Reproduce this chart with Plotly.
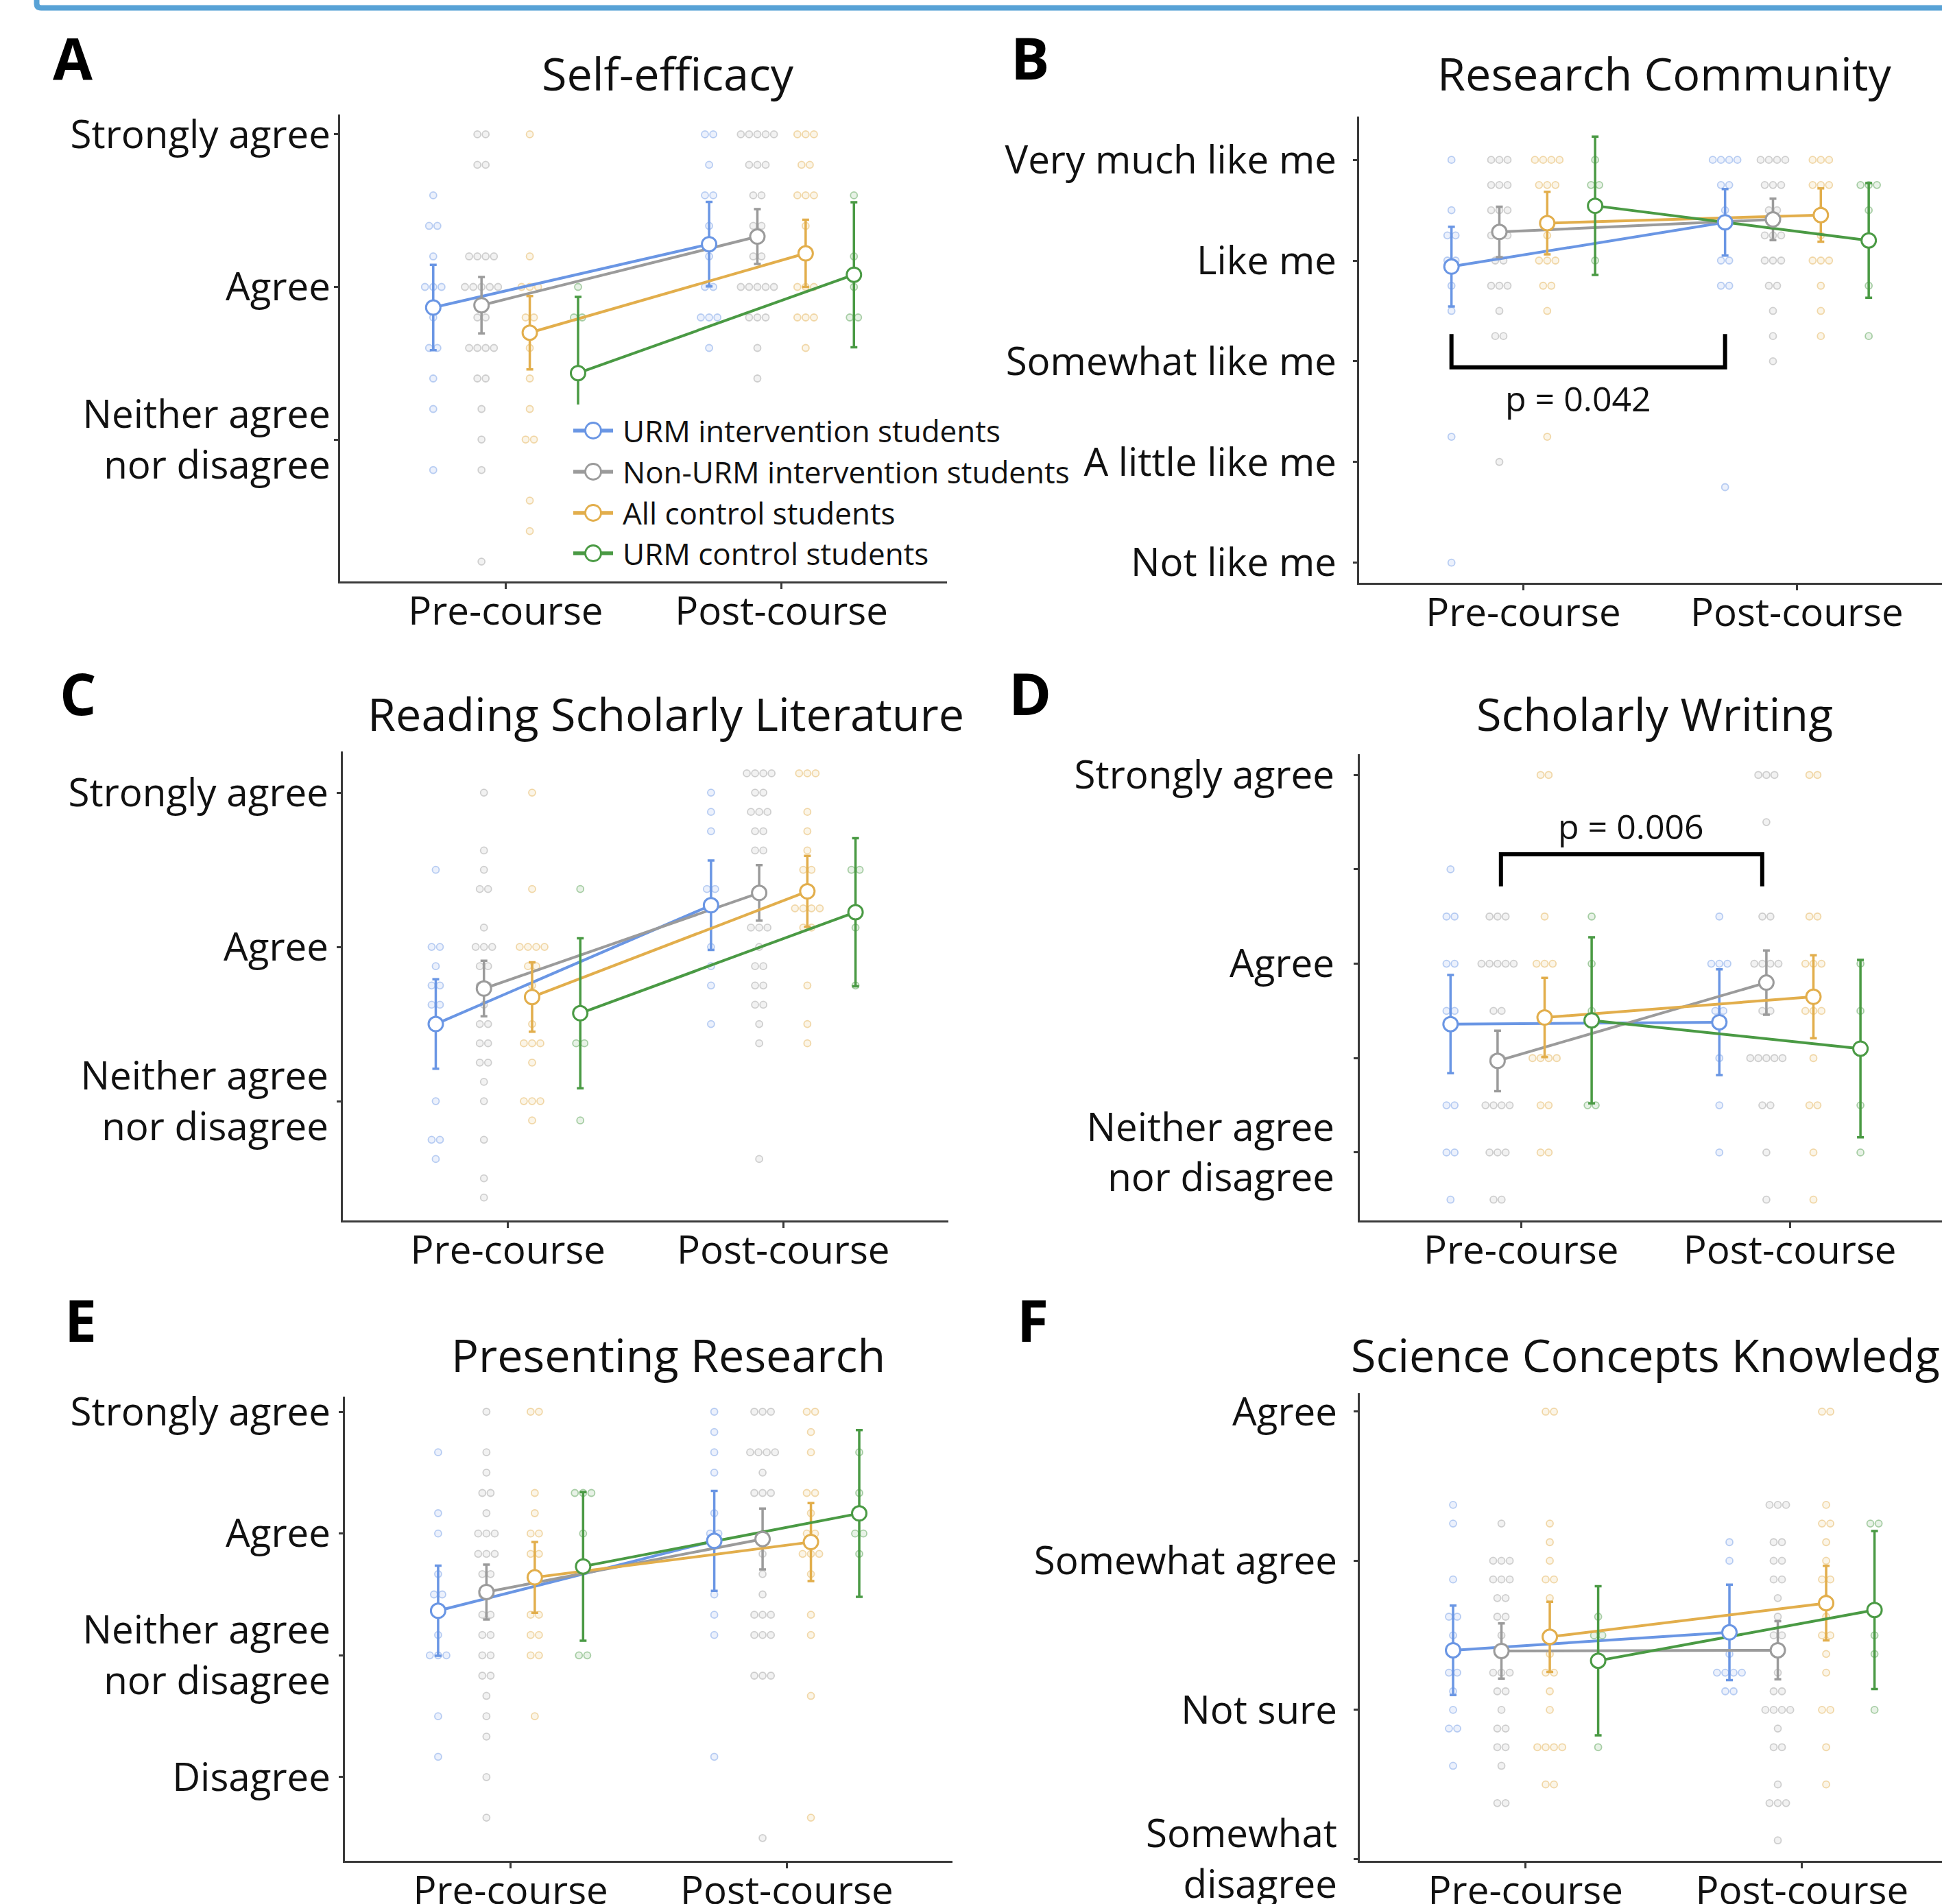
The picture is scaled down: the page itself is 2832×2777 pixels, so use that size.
import plotly.graph_objects as go

W, H = 2832, 2777

GROUPS = ["URM intervention students", "Non-URM intervention students",
          "All control students", "URM control students"]
COLORS = ["#6A96E4", "#9B9B9B", "#E2AE4C", "#4A9A44"]
RGB = [(106, 150, 228), (155, 155, 155), (226, 174, 76), (74, 154, 68)]
TIMES = ["Pre-course", "Post-course"]
LETTERS = ["A", "B", "C", "D", "E", "F"]
TITLES = ["Self-efficacy", "Research Community", "Reading Scholarly Literature",
          "Scholarly Writing", "Presenting Research", "Science Concepts Knowledge"]

# ---------------- Panel A: Self-efficacy ----------------
A_TICKVALS = [3, 4, 5]
A_TICKTEXT = ["Neither agree<br>nor disagree", "Agree", "Strongly agree"]
A_PRE_MEAN = [3.865, 3.88, 3.70, 3.435]
A_POST_MEAN = [4.28, 4.33, 4.22, 4.08]
A_PRE_ERR = [0.28, 0.185, 0.24, 0.50]
A_POST_ERR = [0.277, 0.18, 0.22, 0.475]
A_PRE_DOTS = [
    [4.6, 4.4, 4.4, 4.2, 4.0, 4.0, 4.0, 3.8, 3.6, 3.6, 3.4, 3.2, 2.8],
    [5.0, 5.0, 4.8, 4.8, 4.2, 4.2, 4.2, 4.2, 4.0, 4.0, 4.0, 4.0, 4.0, 3.8, 3.8,
     3.6, 3.6, 3.6, 3.6, 3.4, 3.4, 3.2, 3.0, 2.8, 2.2],
    [5.0, 4.2, 4.0, 4.0, 4.0, 3.8, 3.8, 3.6, 3.4, 3.2, 3.0, 3.0, 2.6, 2.4],
    [4.0, 3.8, 3.8, 2.8, 2.8],
]
A_POST_DOTS = [
    [5.0, 5.0, 4.8, 4.6, 4.6, 4.4, 4.2, 4.0, 4.0, 3.8, 3.8, 3.8, 3.6],
    [5.0, 5.0, 5.0, 5.0, 5.0, 4.8, 4.8, 4.8, 4.6, 4.6, 4.4, 4.4, 4.2, 4.2,
     4.0, 4.0, 4.0, 4.0, 4.0, 3.8, 3.8, 3.8, 3.6, 3.4, 3.2],
    [5.0, 5.0, 5.0, 4.8, 4.8, 4.6, 4.6, 4.6, 4.4, 4.2, 4.0, 4.0, 4.0, 3.8, 3.8, 3.8, 3.6],
    [4.6, 4.2, 4.0, 3.8, 3.8],
]

# ---------------- Panel B: Research Community ----------------
B_TICKVALS = [1, 2, 3, 4, 5]
B_TICKTEXT = ["Not like me", "A little like me", "Somewhat like me", "Like me", "Very much like me"]
B_PRE_MEAN = [3.94, 4.284, 4.372, 4.544]
B_POST_MEAN = [4.38, 4.408, 4.452, 4.20]
B_PRE_ERR = [0.396, 0.25, 0.31, 0.686]
B_POST_ERR = [0.33, 0.206, 0.264, 0.57]
B_PRE_DOTS = [
    [5.0, 4.5, 4.25, 4.25, 4.0, 4.0, 3.75, 3.5, 2.25, 1.0],
    [5.0, 5.0, 5.0, 4.75, 4.75, 4.75, 4.5, 4.5, 4.5, 4.25, 4.25, 4.25, 4.0, 4.0,
     3.75, 3.75, 3.75, 3.5, 3.25, 3.25, 2.0],
    [5.0, 5.0, 5.0, 5.0, 4.75, 4.75, 4.75, 4.25, 4.0, 4.0, 4.0, 3.75, 3.75, 3.5, 2.25],
    [5.0, 4.75, 4.75, 4.0],
]
B_POST_DOTS = [
    [5.0, 5.0, 5.0, 5.0, 4.75, 4.75, 4.5, 4.0, 4.0, 3.75, 3.75, 1.75],
    [5.0, 5.0, 5.0, 5.0, 4.75, 4.75, 4.75, 4.5, 4.5, 4.25, 4.25, 4.25, 4.0, 4.0, 4.0,
     3.75, 3.75, 3.5, 3.25, 3.0],
    [5.0, 5.0, 5.0, 4.75, 4.75, 4.75, 4.5, 4.25, 4.0, 4.0, 4.0, 3.75, 3.5, 3.25],
    [4.75, 4.75, 4.75, 4.5, 3.75, 3.25],
]
B_P_TEXT = "p = 0.042"

# ---------------- Panel C: Reading Scholarly Literature ----------------
C_TICKVALS = [3, 4, 5]
C_TICKTEXT = ["Neither agree<br>nor disagree", "Agree", "Strongly agree"]
C_PRE_MEAN = [3.50, 3.73, 3.675, 3.57]
C_POST_MEAN = [4.27, 4.35, 4.36, 4.225]
C_PRE_ERR = [0.29, 0.18, 0.225, 0.486]
C_POST_ERR = [0.29, 0.18, 0.23, 0.48]
C_PRE_DOTS = [
    [4.5, 4.0, 4.0, 3.875, 3.75, 3.75, 3.625, 3.625, 3.0, 2.75, 2.75, 2.625],
    [5.0, 4.625, 4.5, 4.375, 4.375, 4.125, 4.0, 4.0, 4.0, 3.875, 3.875, 3.75, 3.75,
     3.625, 3.5, 3.5, 3.375, 3.375, 3.25, 3.25, 3.125, 3.0, 2.75, 2.5, 2.375],
    [5.0, 4.375, 4.0, 4.0, 4.0, 4.0, 3.875, 3.875, 3.75, 3.5, 3.375, 3.375, 3.375,
     3.25, 3.0, 3.0, 3.0, 2.875],
    [4.375, 3.375, 3.375, 2.875],
]
C_POST_DOTS = [
    [5.0, 4.875, 4.75, 4.375, 4.375, 4.0, 3.875, 3.75, 3.5],
    [5.125, 5.125, 5.125, 5.125, 5.0, 5.0, 4.875, 4.875, 4.875, 4.75, 4.75, 4.625, 4.625,
     4.125, 4.125, 4.125, 4.0, 3.875, 3.875, 3.75, 3.75, 3.625, 3.625, 3.5, 3.375, 2.625],
    [5.125, 5.125, 5.125, 4.875, 4.75, 4.625, 4.5, 4.5, 4.25, 4.25, 4.25, 4.25,
     4.125, 4.125, 3.75, 3.5, 3.375],
    [4.5, 4.5, 4.25, 4.125, 3.75],
]

# ---------------- Panel D: Scholarly Writing ----------------
D_TICKVALS = [3, 3.5, 4, 4.5, 5]
D_TICKTEXT = ["Neither agree<br>nor disagree", "", "Agree", "", "Strongly agree"]
D_PRE_MEAN = [3.68, 3.485, 3.715, 3.70]
D_POST_MEAN = [3.69, 3.90, 3.825, 3.55]
D_PRE_ERR = [0.26, 0.16, 0.21, 0.44]
D_POST_ERR = [0.28, 0.17, 0.22, 0.47]
D_PRE_DOTS = [
    [4.5, 4.25, 4.25, 4.0, 4.0, 3.75, 3.75, 3.25, 3.25, 3.0, 3.0, 2.75],
    [4.25, 4.25, 4.25, 4.0, 4.0, 4.0, 4.0, 4.0, 3.75, 3.75, 3.5, 3.5,
     3.25, 3.25, 3.25, 3.25, 3.0, 3.0, 3.0, 2.75, 2.75],
    [5.0, 5.0, 4.25, 4.0, 4.0, 4.0, 3.5, 3.5, 3.5, 3.5, 3.25, 3.25, 3.0, 3.0],
    [4.25, 4.0, 3.75, 3.25, 3.25],
]
D_POST_DOTS = [
    [4.25, 4.0, 4.0, 4.0, 3.75, 3.75, 3.5, 3.25, 3.0],
    [5.0, 5.0, 5.0, 4.75, 4.25, 4.25, 4.0, 4.0, 4.0, 4.0, 3.75, 3.75,
     3.5, 3.5, 3.5, 3.5, 3.5, 3.25, 3.25, 3.0, 2.75],
    [5.0, 5.0, 4.25, 4.25, 4.0, 4.0, 4.0, 3.75, 3.75, 3.75, 3.5, 3.25, 3.25, 3.0, 2.75],
    [4.0, 3.75, 3.25, 3.0],
]
D_P_TEXT = "p = 0.006"

# ---------------- Panel E: Presenting Research ----------------
E_TICKVALS = [2, 3, 4, 5]
E_TICKTEXT = ["Disagree", "Neither agree<br>nor disagree", "Agree", "Strongly agree"]
E_PRE_MEAN = [3.366, 3.52, 3.64, 3.73]
E_POST_MEAN = [3.94, 3.955, 3.93, 4.165]
E_PRE_ERR = [0.37, 0.225, 0.29, 0.61]
E_POST_ERR = [0.41, 0.25, 0.32, 0.685]
E_PRE_DOTS = [
    [4.667, 4.167, 4.0, 3.667, 3.5, 3.5, 3.333, 3.167, 3.0, 3.0, 3.0, 2.5, 2.167],
    [5.0, 4.667, 4.5, 4.333, 4.333, 4.167, 4.0, 4.0, 4.0, 3.833, 3.833, 3.833,
     3.667, 3.667, 3.5, 3.5, 3.333, 3.333, 3.167, 3.167, 3.0, 3.0, 2.833, 2.833,
     2.667, 2.5, 2.333, 2.0, 1.667],
    [5.0, 5.0, 4.333, 4.167, 4.0, 4.0, 3.833, 3.833, 3.333, 3.333, 3.167, 3.167, 3.0, 3.0, 2.5],
    [4.333, 4.333, 4.333, 4.0, 3.0, 3.0],
]
E_POST_DOTS = [
    [5.0, 4.833, 4.667, 4.5, 4.167, 4.0, 4.0, 3.5, 3.333, 3.167, 2.167],
    [5.0, 5.0, 5.0, 4.667, 4.667, 4.667, 4.667, 4.5, 4.333, 4.333, 4.333, 4.0, 3.833,
     3.667, 3.5, 3.333, 3.333, 3.333, 3.167, 3.167, 3.167, 2.833, 2.833, 2.833, 1.5],
    [5.0, 5.0, 4.833, 4.667, 4.333, 4.333, 4.167, 4.0, 4.0, 3.833, 3.833, 3.833,
     3.667, 3.333, 3.167, 2.667, 1.667],
    [4.667, 4.333, 4.0, 4.0, 3.833],
]

# ---------------- Panel F: Science Concepts Knowledge ----------------
F_TICKVALS = [2, 3, 4, 5]
F_TICKTEXT = ["Somewhat<br>disagree", "Not sure", "Somewhat agree", "Agree"]
F_PRE_MEAN = [3.40, 3.395, 3.49, 3.33]
F_POST_MEAN = [3.52, 3.40, 3.716, 3.67]
F_PRE_ERR = [0.30, 0.185, 0.235, 0.50]
F_POST_ERR = [0.32, 0.195, 0.25, 0.53]
F_PRE_DOTS = [
    [4.375, 4.25, 3.875, 3.625, 3.625, 3.5, 3.375, 3.25, 3.25, 3.125, 3.0, 2.875, 2.875, 2.625],
    [4.25, 4.0, 4.0, 4.0, 3.875, 3.875, 3.875, 3.75, 3.75, 3.625, 3.625, 3.5, 3.375,
     3.25, 3.25, 3.25, 3.125, 3.125, 3.0, 2.875, 2.875, 2.75, 2.75, 2.625, 2.375, 2.375],
    [5.0, 5.0, 4.25, 4.125, 4.0, 3.875, 3.875, 3.75, 3.375, 3.25, 3.25, 3.125, 3.0,
     2.75, 2.75, 2.75, 2.75, 2.5, 2.5],
    [3.625, 3.5, 3.5, 2.75],
]
F_POST_DOTS = [
    [4.125, 4.0, 3.5, 3.375, 3.25, 3.25, 3.25, 3.25, 3.125, 3.125],
    [4.375, 4.375, 4.375, 4.125, 4.125, 4.0, 4.0, 3.875, 3.875, 3.75, 3.625, 3.5, 3.5,
     3.375, 3.25, 3.125, 3.125, 3.0, 3.0, 3.0, 3.0, 2.875, 2.75, 2.75, 2.5,
     2.375, 2.375, 2.375, 2.125],
    [5.0, 5.0, 4.375, 4.25, 4.25, 4.125, 4.0, 3.875, 3.875, 3.75, 3.625, 3.5, 3.5,
     3.375, 3.25, 3.0, 3.0, 2.75, 2.5],
    [4.25, 4.25, 3.5, 3.375, 3.0],
]

# ---------------- layout geometry (pixels) ----------------
GROUP_OFFSETS = [-0.2625, -0.0875, 0.0875, 0.2625]
JITTER_STEP = 0.03

PANELS = [
    dict(tv=A_TICKVALS, tt=A_TICKTEXT, pm=A_PRE_MEAN, qm=A_POST_MEAN, pe=A_PRE_ERR, qe=A_POST_ERR,
         pd=A_PRE_DOTS, qd=A_POST_DOTS, box=(496, 1381, 167, 848), ppu=402.3, yr=(2.07, 5.13),
         so=-6, letter=(106, 84), title=(974, 106)),
    dict(tv=B_TICKVALS, tt=B_TICKTEXT, pm=B_PRE_MEAN, qm=B_POST_MEAN, pe=B_PRE_ERR, qe=B_POST_ERR,
         pd=B_PRE_DOTS, qd=B_POST_DOTS, box=(1982, 2832, 170, 850), ppu=399, yr=(0.80, 5.43),
         so=13, letter=(1502, 84), title=(2427, 106)),
    dict(tv=C_TICKVALS, tt=C_TICKTEXT, pm=C_PRE_MEAN, qm=C_POST_MEAN, pe=C_PRE_ERR, qe=C_POST_ERR,
         pd=C_PRE_DOTS, qd=C_POST_DOTS, box=(500, 1383, 1096, 1780), ppu=401.4, yr=(2.227, 5.267),
         so=1, letter=(114, 1011), title=(971, 1040)),
    dict(tv=D_TICKVALS, tt=D_TICKTEXT, pm=D_PRE_MEAN, qm=D_POST_MEAN, pe=D_PRE_ERR, qe=D_POST_ERR,
         pd=D_PRE_DOTS, qd=D_POST_DOTS, box=(1983, 2832, 1100, 1780), ppu=392, yr=(2.64, 5.11),
         so=17, letter=(1502, 1011), title=(2413, 1040)),
    dict(tv=E_TICKVALS, tt=E_TICKTEXT, pm=E_PRE_MEAN, qm=E_POST_MEAN, pe=E_PRE_ERR, qe=E_POST_ERR,
         pd=E_PRE_DOTS, qd=E_POST_DOTS, box=(503, 1389, 2037, 2714), ppu=402.7, yr=(1.313, 5.124),
         so=1, letter=(117, 1924), title=(974, 1975)),
    dict(tv=F_TICKVALS, tt=F_TICKTEXT, pm=F_PRE_MEAN, qm=F_POST_MEAN, pe=F_PRE_ERR, qe=F_POST_ERR,
         pd=F_PRE_DOTS, qd=F_POST_DOTS, box=(1983, 2832, 2032, 2714), ppu=403, yr=(1.988, 5.124),
         so=13, letter=(1506, 1924), title=(1968, 1975), title_left=True),
]

FONT = "Open Sans"
TXT = "#111111"
AX = "#3a3a3a"


def px(x):
    return x / W


def py(y):
    return 1 - y / H


def spread(vals):
    counts = {}
    for v in vals:
        counts[v] = counts.get(v, 0) + 1
    seen = {}
    offs = []
    for v in vals:
        k = seen.get(v, 0)
        seen[v] = k + 1
        offs.append((k - (counts[v] - 1) / 2) * JITTER_STEP)
    return offs


fig = go.Figure()
layout = dict(width=W, height=H, margin=dict(l=0, r=0, t=0, b=0),
              paper_bgcolor="white", plot_bgcolor="white", template="none",
              showlegend=False, font=dict(family=FONT, color=TXT))
annotations = []
shapes = []

for i, P in enumerate(PANELS):
    n = i + 1
    xa = "x" if n == 1 else f"x{n}"
    ya = "y" if n == 1 else f"y{n}"
    x0, x1, y0, y1 = P["box"]
    xmax = 0.4 + (x1 - x0) / P["ppu"]
    common = dict(showline=True, linecolor=AX, linewidth=2.5, ticks="outside", tickcolor=AX,
                  tickwidth=2.5, showgrid=False, zeroline=False, automargin=False,
                  ticklabeloverflow="allow",
                  tickfont=dict(family=FONT, size=56.5, color=TXT))
    layout["xaxis" if n == 1 else f"xaxis{n}"] = dict(
        domain=[px(x0), px(x1)], range=[0.4, xmax], anchor=ya, tickmode="array",
        tickvals=[1, 2], ticktext=TIMES, ticklen=8, ticklabelstandoff=-16, **common)
    layout["yaxis" if n == 1 else f"yaxis{n}"] = dict(
        domain=[py(y1), py(y0)], range=list(P["yr"]), anchor=xa, tickmode="array",
        tickvals=P["tv"], ticktext=P["tt"], ticklen=6, ticklabelstandoff=P["so"], **common)

    # individual responses
    for g in range(4):
        xs, ys = [], []
        for t, dots in ((1, P["pd"][g]), (2, P["qd"][g])):
            for v, o in zip(dots, spread(dots)):
                xs.append(t + GROUP_OFFSETS[g] + o)
                ys.append(v)
        r, gg, b = RGB[g]
        fig.add_trace(go.Scatter(
            x=xs, y=ys, xaxis=xa, yaxis=ya, mode="markers", hoverinfo="skip",
            marker=dict(size=10, color=f"rgba({r},{gg},{b},0.13)",
                        line=dict(width=1.8, color=f"rgba({r},{gg},{b},0.45)"))))
    # lines + error bars
    for g in range(4):
        fig.add_trace(go.Scatter(
            x=[1 + GROUP_OFFSETS[g], 2 + GROUP_OFFSETS[g]], y=[P["pm"][g], P["qm"][g]],
            xaxis=xa, yaxis=ya, mode="lines", line=dict(color=COLORS[g], width=4),
            error_y=dict(type="data", array=[P["pe"][g], P["qe"][g]], color=COLORS[g],
                         thickness=3.5, width=5)))
    # means
    for g in range(4):
        fig.add_trace(go.Scatter(
            x=[1 + GROUP_OFFSETS[g], 2 + GROUP_OFFSETS[g]], y=[P["pm"][g], P["qm"][g]],
            xaxis=xa, yaxis=ya, mode="markers", name=GROUPS[g],
            marker=dict(size=21, color="white", line=dict(color=COLORS[g], width=3))))

    # panel letter and title
    lx, ly = P["letter"]
    annotations.append(dict(text=f"<b>{LETTERS[i]}</b>", x=px(lx), y=py(ly), xref="paper",
                            yref="paper", showarrow=False, xanchor="center", yanchor="middle",
                            font=dict(family=FONT, size=84, color="#000")))
    tx, ty = P["title"]
    annotations.append(dict(text=TITLES[i], x=px(tx), y=py(ty), xref="paper", yref="paper",
                            showarrow=False, xanchor="left" if P.get("title_left") else "center",
                            yanchor="middle", font=dict(family=FONT, size=66.5, color=TXT)))

# significance brackets
shapes.append(dict(type="path", xref="x2", yref="y2",
                   path="M 0.7375,3.27 L 0.7375,2.94 L 1.7375,2.94 L 1.7375,3.27",
                   line=dict(color="#000", width=6)))
annotations.append(dict(text=B_P_TEXT, x=1.20, y=2.63, xref="x2", yref="y2", showarrow=False,
                        font=dict(family=FONT, size=50, color=TXT)))
shapes.append(dict(type="path", xref="x4", yref="y4",
                   path="M 0.925,4.41 L 0.925,4.58 L 1.897,4.58 L 1.897,4.41",
                   line=dict(color="#000", width=6)))
annotations.append(dict(text=D_P_TEXT, x=1.41, y=4.73, xref="x4", yref="y4", showarrow=False,
                        font=dict(family=FONT, size=50, color=TXT)))

# legend (drawn in panel A)
shapes.append(dict(type="rect", xref="paper", yref="paper", layer="above",
                   x0=px(822), x1=px(1578), y0=py(842), y1=py(590),
                   fillcolor="white", line=dict(width=0)))
LEG_Y = [628, 688, 748, 807]
for g in range(4):
    yy = LEG_Y[g]
    shapes.append(dict(type="line", xref="paper", yref="paper", layer="above",
                       x0=px(836), x1=px(894), y0=py(yy), y1=py(yy),
                       line=dict(color=COLORS[g], width=5.5)))
    shapes.append(dict(type="circle", xref="paper", yref="paper", layer="above",
                       x0=px(865 - 11.5), x1=px(865 + 11.5), y0=py(yy + 11.5), y1=py(yy - 11.5),
                       fillcolor="white", line=dict(color=COLORS[g], width=2.8)))
    annotations.append(dict(text=GROUPS[g], x=px(906), y=py(yy), xref="paper", yref="paper",
                            showarrow=False, xanchor="left", yanchor="middle",
                            font=dict(family=FONT, size=44, color=TXT)))

# top border of the surrounding box
shapes.append(dict(type="path", xref="paper", yref="paper", layer="above",
                   path=f"M {px(53.5)},{py(-2)} L {px(53.5)},{py(5)} Q {px(53.5)},{py(11.5)} "
                        f"{px(60)},{py(11.5)} L {px(2840)},{py(11.5)}",
                   line=dict(color="#58A2D6", width=8)))

layout["annotations"] = annotations
layout["shapes"] = shapes
fig.update_layout(**layout)
fig.write_html("out.html", config={"displayModeBar": False},
               post_script="document.body.style.margin='0';document.body.style.overflow='hidden';")
